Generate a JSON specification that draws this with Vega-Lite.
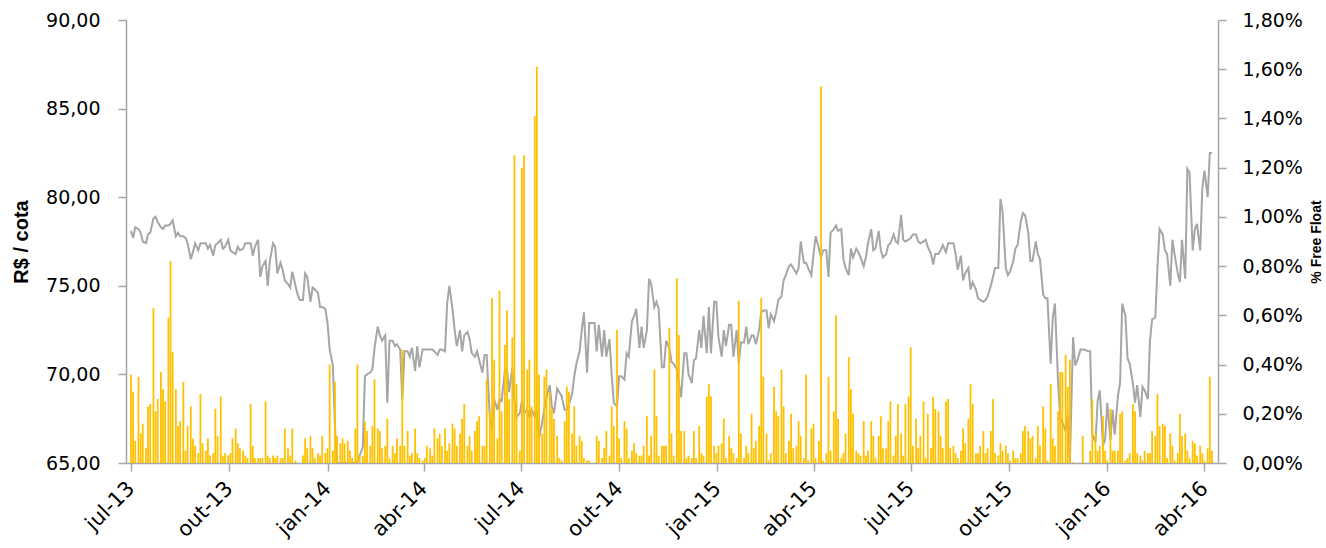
{"$schema":"https://vega.github.io/schema/vega-lite/v6.json","width":1092,"height":443,"autosize":{"type":"none"},"padding":{"left":126,"top":20,"right":108,"bottom":85},"background":"white",
"config":{"view":{"stroke":null},"axis":{"grid":false,"domainColor":"#A6A6A6","tickColor":"#A6A6A6","domainWidth":1.5,"tickWidth":1.5,"tickSize":8,"labelFont":"DejaVu Sans","labelFontSize":19,"labelColor":"#000000"}},
"data":{"values":[
{"d":"2013-07-01","p":78.1,"v":0.36},{"d":"2013-07-03","p":77.7,"v":0.29},{"d":"2013-07-05","p":78.3,"v":0.09},
{"d":"2013-07-08","p":78.2,"v":0.35},{"d":"2013-07-10","p":78.0,"v":0.12},{"d":"2013-07-12","p":77.5,"v":0.16},
{"d":"2013-07-15","p":77.4,"v":0.06},{"d":"2013-07-17","p":77.9,"v":0.23},{"d":"2013-07-19","p":78.0,"v":0.24},
{"d":"2013-07-22","p":78.8,"v":0.63},{"d":"2013-07-24","p":78.9,"v":0.21},{"d":"2013-07-26","p":78.6,"v":0.26},
{"d":"2013-07-29","p":78.3,"v":0.37},{"d":"2013-07-31","p":78.2,"v":0.30},{"d":"2013-08-02","p":78.4,"v":0.25},
{"d":"2013-08-05","p":78.4,"v":0.59},{"d":"2013-08-07","p":78.5,"v":0.82},{"d":"2013-08-09","p":78.7,"v":0.45},
{"d":"2013-08-12","p":77.8,"v":0.30},{"d":"2013-08-14","p":78.0,"v":0.15},{"d":"2013-08-16","p":77.8,"v":0.17},
{"d":"2013-08-19","p":77.8,"v":0.33},{"d":"2013-08-21","p":77.7,"v":0.05},{"d":"2013-08-23","p":77.4,"v":0.15},
{"d":"2013-08-26","p":76.5,"v":0.23},{"d":"2013-08-28","p":76.9,"v":0.10},{"d":"2013-08-30","p":77.4,"v":0.07},
{"d":"2013-09-02","p":77.0,"v":0.04},{"d":"2013-09-04","p":77.4,"v":0.28},{"d":"2013-09-06","p":77.4,"v":0.08},
{"d":"2013-09-09","p":77.4,"v":0.05},{"d":"2013-09-11","p":77.1,"v":0.10},{"d":"2013-09-13","p":77.3,"v":0.03},
{"d":"2013-09-16","p":76.7,"v":0.04},{"d":"2013-09-18","p":77.3,"v":0.22},{"d":"2013-09-20","p":77.4,"v":0.11},
{"d":"2013-09-23","p":77.6,"v":0.27},{"d":"2013-09-25","p":77.1,"v":0.03},{"d":"2013-09-27","p":77.2,"v":0.04},
{"d":"2013-09-30","p":77.6,"v":0.03},{"d":"2013-10-02","p":77.0,"v":0.04},{"d":"2013-10-04","p":76.9,"v":0.10},
{"d":"2013-10-07","p":76.8,"v":0.14},{"d":"2013-10-09","p":77.2,"v":0.08},{"d":"2013-10-11","p":77.0,"v":0.06},
{"d":"2013-10-14","p":77.1,"v":0.05},{"d":"2013-10-16","p":77.4,"v":0.03},{"d":"2013-10-18","p":77.4,"v":0.02},
{"d":"2013-10-21","p":77.4,"v":0.24},{"d":"2013-10-23","p":76.7,"v":0.07},{"d":"2013-10-25","p":77.2,"v":0.02},
{"d":"2013-10-28","p":77.6,"v":0.02},{"d":"2013-10-30","p":75.5,"v":0.02},{"d":"2013-11-01","p":76.1,"v":0.02},
{"d":"2013-11-04","p":76.4,"v":0.25},{"d":"2013-11-06","p":75.0,"v":0.03},{"d":"2013-11-08","p":76.4,"v":0.02},
{"d":"2013-11-11","p":77.4,"v":0.03},{"d":"2013-11-13","p":77.2,"v":0.02},{"d":"2013-11-15","p":75.7,"v":0.03},
{"d":"2013-11-18","p":76.3,"v":0.02},{"d":"2013-11-20","p":75.9,"v":0.02},{"d":"2013-11-22","p":75.3,"v":0.14},
{"d":"2013-11-25","p":75.1,"v":0.06},{"d":"2013-11-27","p":74.9,"v":0.03},{"d":"2013-11-29","p":75.8,"v":0.14},
{"d":"2013-12-02","p":75.0,"v":0.01},{"d":"2013-12-04","p":74.5,"v":0},{"d":"2013-12-06","p":74.2,"v":0},
{"d":"2013-12-09","p":74.2,"v":0.03},{"d":"2013-12-11","p":75.7,"v":0.10},{"d":"2013-12-13","p":75.5,"v":0.06},
{"d":"2013-12-16","p":74.1,"v":0.11},{"d":"2013-12-18","p":74.9,"v":0.06},{"d":"2013-12-20","p":74.8,"v":0.02},
{"d":"2013-12-23","p":74.6,"v":0.04},{"d":"2013-12-25","p":73.8,"v":0.03},{"d":"2013-12-27","p":73.8,"v":0.11},
{"d":"2013-12-30","p":73.7,"v":0.04},{"d":"2014-01-01","p":72.9,"v":0.06},{"d":"2014-01-03","p":71.4,"v":0.40},
{"d":"2014-01-06","p":70.5,"v":0.05},{"d":"2014-01-08","p":67.0,"v":0.33},{"d":"2014-01-10","p":65.0,"v":0.11},
{"d":"2014-01-13","p":65.0,"v":0.08},{"d":"2014-01-15","p":65.0,"v":0.10},{"d":"2014-01-17","p":65.0,"v":0.08},
{"d":"2014-01-20","p":65.0,"v":0.09},{"d":"2014-01-22","p":65.0,"v":0.05},{"d":"2014-01-24","p":65.0,"v":0.02},
{"d":"2014-01-27","p":65.0,"v":0.14},{"d":"2014-01-29","p":65.1,"v":0.40},{"d":"2014-01-31","p":65.4,"v":0.03},
{"d":"2014-02-03","p":65.9,"v":0.03},{"d":"2014-02-05","p":69.9,"v":0.17},{"d":"2014-02-07","p":70.0,"v":0.13},
{"d":"2014-02-10","p":70.1,"v":0.07},{"d":"2014-02-12","p":70.3,"v":0.15},{"d":"2014-02-14","p":71.5,"v":0.34},
{"d":"2014-02-17","p":72.7,"v":0.14},{"d":"2014-02-19","p":72.2,"v":0.13},{"d":"2014-02-21","p":71.9,"v":0.06},
{"d":"2014-02-24","p":72.2,"v":0.07},{"d":"2014-02-26","p":68.4,"v":0.18},{"d":"2014-02-28","p":71.9,"v":0.02},
{"d":"2014-03-03","p":71.9,"v":0.07},{"d":"2014-03-05","p":71.6,"v":0.04},{"d":"2014-03-07","p":71.7,"v":0.10},
{"d":"2014-03-10","p":71.4,"v":0.07},{"d":"2014-03-12","p":68.6,"v":0.46},{"d":"2014-03-14","p":71.3,"v":0.07},
{"d":"2014-03-17","p":71.3,"v":0.13},{"d":"2014-03-19","p":71.0,"v":0.03},{"d":"2014-03-21","p":71.5,"v":0.04},
{"d":"2014-03-24","p":70.2,"v":0.14},{"d":"2014-03-26","p":71.6,"v":0.04},{"d":"2014-03-28","p":70.4,"v":0.02},
{"d":"2014-03-31","p":71.4,"v":0.01},{"d":"2014-04-02","p":71.4,"v":0.02},{"d":"2014-04-04","p":71.4,"v":0.07},
{"d":"2014-04-07","p":71.4,"v":0.06},{"d":"2014-04-09","p":71.4,"v":0.03},{"d":"2014-04-11","p":71.3,"v":0.14},
{"d":"2014-04-14","p":71.1,"v":0.10},{"d":"2014-04-16","p":71.4,"v":0.12},{"d":"2014-04-18","p":71.4,"v":0.07},
{"d":"2014-04-21","p":71.3,"v":0.14},{"d":"2014-04-23","p":74.0,"v":0.05},{"d":"2014-04-25","p":75.0,"v":0.08},
{"d":"2014-04-28","p":73.7,"v":0.16},{"d":"2014-04-30","p":72.5,"v":0.14},{"d":"2014-05-02","p":71.6,"v":0.07},
{"d":"2014-05-05","p":72.5,"v":0.12},{"d":"2014-05-07","p":71.3,"v":0.18},{"d":"2014-05-09","p":72.2,"v":0.24},
{"d":"2014-05-12","p":72.4,"v":0.07},{"d":"2014-05-14","p":72.0,"v":0.11},{"d":"2014-05-16","p":71.2,"v":0.05},
{"d":"2014-05-19","p":71.0,"v":0.13},{"d":"2014-05-21","p":71.3,"v":0.17},{"d":"2014-05-23","p":70.8,"v":0.19},
{"d":"2014-05-26","p":70.1,"v":0.07},{"d":"2014-05-28","p":71.1,"v":0.07},{"d":"2014-05-30","p":71.1,"v":0.34},
{"d":"2014-06-02","p":67.5,"v":0.21},{"d":"2014-06-04","p":67.0,"v":0.67},{"d":"2014-06-06","p":68.6,"v":0.42},
{"d":"2014-06-09","p":68.0,"v":0.10},{"d":"2014-06-11","p":68.6,"v":0.70},{"d":"2014-06-13","p":68.5,"v":0.21},
{"d":"2014-06-16","p":70.2,"v":0.48},{"d":"2014-06-18","p":70.3,"v":0.62},{"d":"2014-06-20","p":69.0,"v":0.26},
{"d":"2014-06-23","p":70.4,"v":0.51},{"d":"2014-06-25","p":68.5,"v":1.25},{"d":"2014-06-27","p":67.6,"v":0.32},
{"d":"2014-06-30","p":67.8,"v":0.05},{"d":"2014-07-02","p":68.5,"v":1.20},{"d":"2014-07-04","p":67.8,"v":1.25},
{"d":"2014-07-07","p":68.0,"v":0.38},{"d":"2014-07-09","p":67.6,"v":0.42},{"d":"2014-07-11","p":68.0,"v":0.23},
{"d":"2014-07-14","p":67.6,"v":1.41},{"d":"2014-07-16","p":68.0,"v":1.61},{"d":"2014-07-18","p":66.4,"v":0.36},
{"d":"2014-07-21","p":67.3,"v":0.12},{"d":"2014-07-23","p":68.1,"v":0.35},{"d":"2014-07-25","p":68.7,"v":0.38},
{"d":"2014-07-28","p":69.4,"v":0.29},{"d":"2014-07-30","p":68.2,"v":0.22},{"d":"2014-08-01","p":67.8,"v":0.18},
{"d":"2014-08-04","p":69.2,"v":0.11},{"d":"2014-08-06","p":69.0,"v":0.02},{"d":"2014-08-08","p":68.8,"v":0.01},
{"d":"2014-08-11","p":68.0,"v":0.17},{"d":"2014-08-13","p":68.0,"v":0.31},{"d":"2014-08-15","p":68.3,"v":0.29},
{"d":"2014-08-18","p":68.9,"v":0.12},{"d":"2014-08-20","p":69.9,"v":0.23},{"d":"2014-08-22","p":70.6,"v":0.07},
{"d":"2014-08-25","p":71.3,"v":0.11},{"d":"2014-08-27","p":72.5,"v":0.09},{"d":"2014-08-29","p":73.5,"v":0.02},
{"d":"2014-09-01","p":70.1,"v":0.01},{"d":"2014-09-03","p":72.9,"v":0.01},{"d":"2014-09-05","p":72.9,"v":0},
{"d":"2014-09-08","p":72.9,"v":0},{"d":"2014-09-10","p":71.3,"v":0.11},{"d":"2014-09-12","p":72.8,"v":0.09},
{"d":"2014-09-15","p":71.0,"v":0.02},{"d":"2014-09-17","p":72.5,"v":0.06},{"d":"2014-09-19","p":71.0,"v":0.13},
{"d":"2014-09-22","p":72.0,"v":0.03},{"d":"2014-09-24","p":70.0,"v":0.23},{"d":"2014-09-26","p":68.4,"v":0.15},
{"d":"2014-09-29","p":68.2,"v":0.54},{"d":"2014-10-01","p":69.9,"v":0.10},{"d":"2014-10-03","p":69.9,"v":0.02},
{"d":"2014-10-06","p":69.7,"v":0.17},{"d":"2014-10-08","p":71.2,"v":0.14},{"d":"2014-10-10","p":71.0,"v":0.02},
{"d":"2014-10-13","p":73.0,"v":0.05},{"d":"2014-10-15","p":73.3,"v":0.08},{"d":"2014-10-17","p":73.7,"v":0.04},
{"d":"2014-10-20","p":71.5,"v":0.03},{"d":"2014-10-22","p":72.7,"v":0.03},{"d":"2014-10-24","p":71.5,"v":0.07},
{"d":"2014-10-27","p":72.5,"v":0.19},{"d":"2014-10-29","p":75.4,"v":0.03},{"d":"2014-10-31","p":75.1,"v":0.11},
{"d":"2014-11-03","p":73.8,"v":0.38},{"d":"2014-11-05","p":74.1,"v":0.19},{"d":"2014-11-07","p":73.7,"v":0.03},
{"d":"2014-11-10","p":70.4,"v":0.07},{"d":"2014-11-12","p":70.4,"v":0.07},{"d":"2014-11-14","p":71.9,"v":0.07},
{"d":"2014-11-17","p":71.5,"v":0.55},{"d":"2014-11-19","p":70.7,"v":0.12},{"d":"2014-11-21","p":70.6,"v":0.03},
{"d":"2014-11-24","p":70.3,"v":0.75},{"d":"2014-11-26","p":69.5,"v":0.52},{"d":"2014-11-28","p":68.7,"v":0.13},
{"d":"2014-12-01","p":71.2,"v":0.13},{"d":"2014-12-03","p":71.2,"v":0.02},{"d":"2014-12-05","p":70.0,"v":0.03},
{"d":"2014-12-08","p":69.5,"v":0.02},{"d":"2014-12-10","p":70.8,"v":0.13},{"d":"2014-12-12","p":70.9,"v":0.02},
{"d":"2014-12-15","p":72.5,"v":0.15},{"d":"2014-12-17","p":71.5,"v":0.04},{"d":"2014-12-19","p":73.3,"v":0.03},
{"d":"2014-12-22","p":71.2,"v":0.27},{"d":"2014-12-24","p":73.8,"v":0.32},{"d":"2014-12-26","p":71.2,"v":0.27},
{"d":"2014-12-29","p":74.1,"v":0.07},{"d":"2014-12-31","p":74.1,"v":0.04},{"d":"2015-01-02","p":72.1,"v":0.07},
{"d":"2015-01-05","p":71.0,"v":0.08},{"d":"2015-01-07","p":72.5,"v":0.18},{"d":"2015-01-09","p":71.6,"v":0.02},
{"d":"2015-01-12","p":72.8,"v":0.11},{"d":"2015-01-14","p":72.8,"v":0.06},{"d":"2015-01-16","p":71.0,"v":0.04},
{"d":"2015-01-19","p":72.5,"v":0.02},{"d":"2015-01-21","p":70.6,"v":0.66},{"d":"2015-01-23","p":71.8,"v":0.12},
{"d":"2015-01-26","p":71.8,"v":0.02},{"d":"2015-01-28","p":72.7,"v":0.07},{"d":"2015-01-30","p":71.7,"v":0.04},
{"d":"2015-02-02","p":72.2,"v":0.20},{"d":"2015-02-04","p":72.2,"v":0.06},{"d":"2015-02-06","p":71.7,"v":0.09},
{"d":"2015-02-09","p":72.5,"v":0.15},{"d":"2015-02-11","p":73.5,"v":0.67},{"d":"2015-02-13","p":73.6,"v":0.35},
{"d":"2015-02-16","p":73.6,"v":0.12},{"d":"2015-02-18","p":72.6,"v":0.01},{"d":"2015-02-20","p":73.4,"v":0.04},
{"d":"2015-02-23","p":73.0,"v":0.31},{"d":"2015-02-25","p":73.5,"v":0.21},{"d":"2015-02-27","p":74.2,"v":0.19},
{"d":"2015-03-02","p":74.4,"v":0.38},{"d":"2015-03-04","p":75.3,"v":0.23},{"d":"2015-03-06","p":75.6,"v":0.04},
{"d":"2015-03-09","p":76.1,"v":0.09},{"d":"2015-03-11","p":76.2,"v":0.20},{"d":"2015-03-13","p":76.0,"v":0.06},
{"d":"2015-03-16","p":75.7,"v":0.07},{"d":"2015-03-18","p":76.0,"v":0.17},{"d":"2015-03-20","p":77.5,"v":0.11},
{"d":"2015-03-23","p":76.3,"v":0.02},{"d":"2015-03-25","p":76.3,"v":0.36},{"d":"2015-03-27","p":76.0,"v":0.01},
{"d":"2015-03-30","p":75.6,"v":0.14},{"d":"2015-04-01","p":76.8,"v":0.16},{"d":"2015-04-03","p":77.8,"v":0.02},
{"d":"2015-04-06","p":77.1,"v":0.09},{"d":"2015-04-08","p":76.6,"v":1.53},{"d":"2015-04-10","p":77.0,"v":0.01},
{"d":"2015-04-13","p":77.0,"v":0.04},{"d":"2015-04-15","p":75.5,"v":0.35},{"d":"2015-04-17","p":78.0,"v":0.05},
{"d":"2015-04-20","p":78.2,"v":0.21},{"d":"2015-04-22","p":78.4,"v":0.60},{"d":"2015-04-24","p":78.1,"v":0.18},
{"d":"2015-04-27","p":78.2,"v":0.02},{"d":"2015-04-29","p":76.5,"v":0.04},{"d":"2015-05-01","p":76.0,"v":0.12},
{"d":"2015-05-04","p":75.6,"v":0.43},{"d":"2015-05-06","p":77.1,"v":0.30},{"d":"2015-05-08","p":76.6,"v":0.20},
{"d":"2015-05-11","p":77.1,"v":0.05},{"d":"2015-05-13","p":76.9,"v":0.04},{"d":"2015-05-15","p":76.6,"v":0.03},
{"d":"2015-05-18","p":76.1,"v":0.17},{"d":"2015-05-20","p":76.6,"v":0.03},{"d":"2015-05-22","p":77.4,"v":0.05},
{"d":"2015-05-25","p":78.2,"v":0.17},{"d":"2015-05-27","p":77.0,"v":0.11},{"d":"2015-05-29","p":77.1,"v":0.02},
{"d":"2015-06-01","p":78.1,"v":0.11},{"d":"2015-06-03","p":77.0,"v":0.19},{"d":"2015-06-05","p":76.6,"v":0.06},
{"d":"2015-06-08","p":76.8,"v":0.06},{"d":"2015-06-10","p":77.3,"v":0.17},{"d":"2015-06-12","p":77.4,"v":0.25},
{"d":"2015-06-15","p":77.9,"v":0.03},{"d":"2015-06-17","p":77.5,"v":0.11},{"d":"2015-06-19","p":77.4,"v":0.24},
{"d":"2015-06-22","p":79.0,"v":0.12},{"d":"2015-06-24","p":77.6,"v":0.03},{"d":"2015-06-26","p":77.5,"v":0.24},
{"d":"2015-06-29","p":77.6,"v":0.27},{"d":"2015-07-01","p":77.7,"v":0.47},{"d":"2015-07-03","p":77.9,"v":0.07},
{"d":"2015-07-06","p":77.9,"v":0.18},{"d":"2015-07-08","p":77.5,"v":0.06},{"d":"2015-07-10","p":77.4,"v":0.11},
{"d":"2015-07-13","p":77.5,"v":0.25},{"d":"2015-07-15","p":77.6,"v":0.02},{"d":"2015-07-17","p":77.2,"v":0.20},
{"d":"2015-07-20","p":76.8,"v":0.06},{"d":"2015-07-22","p":76.2,"v":0.27},{"d":"2015-07-24","p":76.8,"v":0.22},
{"d":"2015-07-27","p":76.8,"v":0.21},{"d":"2015-07-29","p":77.0,"v":0.11},{"d":"2015-07-31","p":77.3,"v":0.06},
{"d":"2015-08-03","p":76.9,"v":0.25},{"d":"2015-08-05","p":77.4,"v":0.26},{"d":"2015-08-07","p":77.4,"v":0.06},
{"d":"2015-08-10","p":77.4,"v":0.07},{"d":"2015-08-12","p":76.8,"v":0.04},{"d":"2015-08-14","p":75.9,"v":0.02},
{"d":"2015-08-17","p":76.7,"v":0.05},{"d":"2015-08-19","p":75.3,"v":0.14},{"d":"2015-08-21","p":75.7,"v":0.08},
{"d":"2015-08-24","p":76.0,"v":0.18},{"d":"2015-08-26","p":74.8,"v":0.32},{"d":"2015-08-28","p":75.2,"v":0.24},
{"d":"2015-08-31","p":74.8,"v":0.04},{"d":"2015-09-02","p":74.3,"v":0.04},{"d":"2015-09-04","p":74.2,"v":0.07},
{"d":"2015-09-07","p":74.1,"v":0.13},{"d":"2015-09-09","p":74.2,"v":0.04},{"d":"2015-09-11","p":74.4,"v":0.06},
{"d":"2015-09-14","p":75.0,"v":0.13},{"d":"2015-09-16","p":75.5,"v":0.26},{"d":"2015-09-18","p":76.0,"v":0.04},
{"d":"2015-09-21","p":76.0,"v":0.03},{"d":"2015-09-23","p":79.9,"v":0.08},{"d":"2015-09-25","p":79.2,"v":0.05},
{"d":"2015-09-28","p":76.0,"v":0.07},{"d":"2015-09-30","p":75.6,"v":0.04},{"d":"2015-10-02","p":75.8,"v":0.01},
{"d":"2015-10-05","p":76.4,"v":0.05},{"d":"2015-10-07","p":77.1,"v":0.02},{"d":"2015-10-09","p":77.3,"v":0.02},
{"d":"2015-10-12","p":78.6,"v":0.04},{"d":"2015-10-14","p":79.1,"v":0.13},{"d":"2015-10-16","p":79.0,"v":0.15},
{"d":"2015-10-19","p":78.0,"v":0.13},{"d":"2015-10-21","p":76.4,"v":0.10},{"d":"2015-10-23","p":76.4,"v":0.11},
{"d":"2015-10-26","p":77.5,"v":0.02},{"d":"2015-10-28","p":76.8,"v":0.15},{"d":"2015-10-30","p":76.5,"v":0.07},
{"d":"2015-11-02","p":74.5,"v":0.23},{"d":"2015-11-04","p":74.3,"v":0.14},{"d":"2015-11-06","p":74.3,"v":0.01},
{"d":"2015-11-09","p":70.6,"v":0.32},{"d":"2015-11-11","p":73.2,"v":0.10},{"d":"2015-11-13","p":74.0,"v":0.07},
{"d":"2015-11-16","p":69.5,"v":0.21},{"d":"2015-11-18","p":67.5,"v":0.37},{"d":"2015-11-20","p":67.3,"v":0.37},
{"d":"2015-11-23","p":66.8,"v":0.44},{"d":"2015-11-25","p":67.7,"v":0.31},{"d":"2015-11-27","p":65.0,"v":0.42},
{"d":"2015-11-30","p":72.1,"v":0.003},{"d":"2015-12-02","p":70.5,"v":0},{"d":"2015-12-04","p":70.8,"v":0},
{"d":"2015-12-07","p":71.4,"v":0},{"d":"2015-12-09","p":71.4,"v":0.11},{"d":"2015-12-11","p":71.4,"v":0},
{"d":"2015-12-14","p":71.3,"v":0},{"d":"2015-12-16","p":71.3,"v":0.05},{"d":"2015-12-18","p":66.6,"v":0.26},
{"d":"2015-12-21","p":66.2,"v":0.12},{"d":"2015-12-23","p":68.5,"v":0.05},{"d":"2015-12-25","p":69.1,"v":0.07},
{"d":"2015-12-28","p":66.0,"v":0.19},{"d":"2015-12-30","p":66.3,"v":0.05},{"d":"2016-01-01","p":68.4,"v":0.01},
{"d":"2016-01-04","p":66.3,"v":0.22},{"d":"2016-01-06","p":68.0,"v":0.05},{"d":"2016-01-08","p":66.6,"v":0.05},
{"d":"2016-01-11","p":68.8,"v":0.05},{"d":"2016-01-13","p":69.5,"v":0.20},{"d":"2016-01-15","p":74.0,"v":0.21},
{"d":"2016-01-18","p":73.3,"v":0.01},{"d":"2016-01-20","p":70.9,"v":0.02},{"d":"2016-01-22","p":70.6,"v":0.04},
{"d":"2016-01-25","p":69.5,"v":0.24},{"d":"2016-01-27","p":68.4,"v":0.21},{"d":"2016-01-29","p":69.4,"v":0.04},
{"d":"2016-02-01","p":67.6,"v":0.03},{"d":"2016-02-03","p":69.3,"v":0.01},{"d":"2016-02-05","p":69.1,"v":0.05},
{"d":"2016-02-08","p":68.6,"v":0.04},{"d":"2016-02-10","p":71.9,"v":0.04},{"d":"2016-02-12","p":73.1,"v":0.13},
{"d":"2016-02-15","p":73.2,"v":0.11},{"d":"2016-02-17","p":76.0,"v":0.28},{"d":"2016-02-19","p":78.2,"v":0.15},
{"d":"2016-02-22","p":77.9,"v":0.16},{"d":"2016-02-24","p":77.0,"v":0.15},{"d":"2016-02-26","p":76.8,"v":0.02},
{"d":"2016-02-29","p":75.0,"v":0.12},{"d":"2016-03-02","p":77.6,"v":0.07},{"d":"2016-03-04","p":76.8,"v":0.01},
{"d":"2016-03-07","p":75.7,"v":0.04},{"d":"2016-03-09","p":75.2,"v":0.20},{"d":"2016-03-11","p":77.6,"v":0.11},
{"d":"2016-03-14","p":75.4,"v":0.12},{"d":"2016-03-16","p":81.6,"v":0.05},{"d":"2016-03-18","p":81.4,"v":0.02},
{"d":"2016-03-21","p":77.0,"v":0.09},{"d":"2016-03-23","p":78.2,"v":0.08},{"d":"2016-03-25","p":78.5,"v":0.03},
{"d":"2016-03-28","p":77.0,"v":0.07},{"d":"2016-03-30","p":80.5,"v":0.04},{"d":"2016-04-01","p":81.5,"v":0.01},
{"d":"2016-04-04","p":80.0,"v":0.06},{"d":"2016-04-06","p":82.5,"v":0.35},{"d":"2016-04-08","p":82.5,"v":0.05}
]},
"encoding":{"x":{"field":"d","type":"temporal","scale":{"type":"utc","domain":[{"year":2013,"month":7,"date":1,"utc":true},{"year":2016,"month":4,"date":9,"utc":true}]},
"axis":{"title":null,"values":[{"year":2013,"month":7,"date":1,"utc":true},{"year":2013,"month":10,"date":1,"utc":true},{"year":2014,"month":1,"date":1,"utc":true},{"year":2014,"month":4,"date":1,"utc":true},{"year":2014,"month":7,"date":1,"utc":true},{"year":2014,"month":10,"date":1,"utc":true},{"year":2015,"month":1,"date":1,"utc":true},{"year":2015,"month":4,"date":1,"utc":true},{"year":2015,"month":7,"date":1,"utc":true},{"year":2015,"month":10,"date":1,"utc":true},{"year":2016,"month":1,"date":1,"utc":true},{"year":2016,"month":4,"date":1,"utc":true}],
"labelExpr":"['jan','fev','mar','abr','mai','jun','jul','ago','set','out','nov','dez'][utcmonth(datum.value)] + '-' + utcFormat(datum.value, '%y')","labelAngle":-45,"labelAlign":"right","labelBaseline":"middle","labelPadding":14,"labelFontSize":21,"labelOverlap":false,"labelFlush":false}}},
"layer":[
{"mark":{"type":"line","color":"#A6A6A6","strokeWidth":2,"clip":true},
"encoding":{"y":{"field":"p","type":"quantitative","scale":{"domain":[65,90]},"axis":{"orient":"left","values":[65,70,75,80,85,90],"labelExpr":"replace(format(datum.value,'.2f'),'.',',')","labelPadding":18,"title":"R$ / cota","titleFont":"Liberation Sans","titleFontSize":20,"titleFontWeight":"bold","titleColor":"#000000","titlePadding":14}}}},
{"mark":{"type":"bar","color":"#FFC000","width":1.8},
"encoding":{"y":{"field":"v","type":"quantitative","scale":{"domain":[0,1.8]},"axis":{"orient":"right","values":[0,0.2,0.4,0.6,0.8,1,1.2,1.4,1.6,1.8],"labelExpr":"replace(format(datum.value,'.2f'),'.',',') + '%'","labelPadding":16,"title":"% Free Float","titleFont":"Liberation Sans","titleFontSize":14,"titleFontWeight":"bold","titleColor":"#000000","titleAngle":-90,"titleBaseline":"top","titlePadding":7}}}}
],
"resolve":{"scale":{"y":"independent"}}}
